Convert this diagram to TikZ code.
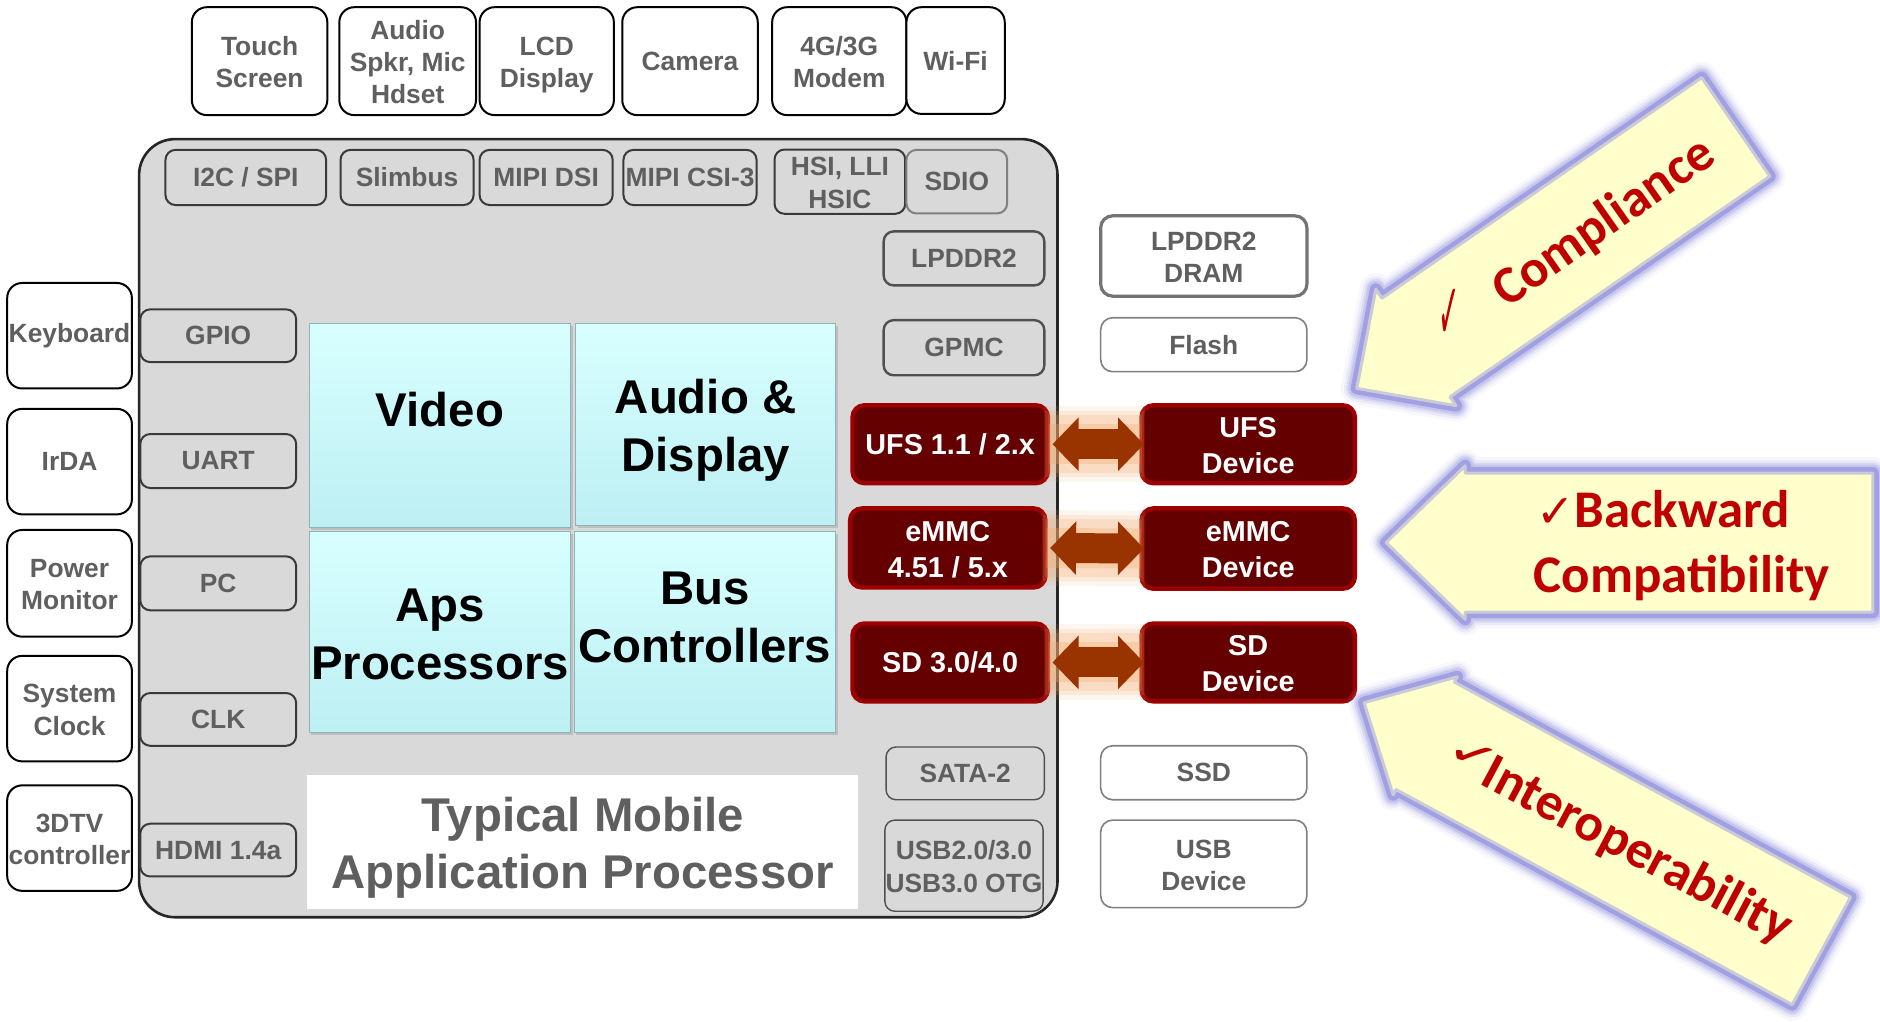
\documentclass[tikz,border=0pt]{standalone}
\usepackage{fontspec}
\usepackage{graphicx}
\setmainfont{Liberation Sans}
\newfontfamily\carl{Carlito}
\newfontfamily\dvs{DejaVu Sans}
\usetikzlibrary{arrows.meta,calc,shadows}
\definecolor{txtgray}{HTML}{5F5F5F}
\definecolor{panel}{HTML}{D9D9D9}
\definecolor{panelline}{HTML}{262626}
\definecolor{boxline}{HTML}{3A3A3A}
\definecolor{boxlinetwo}{HTML}{505050}
\definecolor{memline}{HTML}{808080}
\definecolor{redfill}{HTML}{650000}
\definecolor{redline}{HTML}{9C0000}
\definecolor{arrbrown}{HTML}{993300}
\definecolor{glowc}{HTML}{F4A868}
\definecolor{yel}{HTML}{FFFFCC}
\definecolor{lav}{HTML}{A0A0E2}
\definecolor{chk}{HTML}{C00000}
\definecolor{cyantop}{HTML}{D8FFFF}
\definecolor{cyanbot}{HTML}{BDEFF3}
\definecolor{cyanline}{HTML}{8FB2B5}
\newcommand\fntA{\fontsize{13.2}{16.2}\selectfont\bfseries}
\newcommand\fntB{\fontsize{14.4}{18}\selectfont\bfseries}
\newcommand\fntC{\fontsize{23.7}{28.8}\selectfont\bfseries}
\newcommand\fntD{\carl\fontsize{26.5}{32}\selectfont\bfseries}
\newcommand\sTop{\rule{0pt}{1em}}
\newcommand\sBot{\rule[-0.21em]{0pt}{0.21em}}
\newcommand\placebox[7]{\node[#6, minimum width={(#4-#2)*0.6pt}, minimum height={(#5-#3)*0.6pt}] (#1) at ({(#2+#4)/2},{(#3+#5)/2}) {#7};}
\newcommand\bigarrow[8]{%
\begin{scope}[shift={(#2,#3)}, rotate=#4]
\foreach \lw/\op in {16/.08, 13/.14, 10.5/.22, 8.5/.35}{
\draw[lav, line width=\lw pt, opacity=\op, line join=round] (0,0) -- (#8,-#7) -- (#8,-#6) -- (#5,-#6) -- (#5,#6) -- (#8,#6) -- (#8,#7) -- cycle;}
\draw[fill=yel, draw=lav, line width=6pt, line join=round] (0,0) -- (#8,-#7) -- (#8,-#6) -- (#5,-#6) -- (#5,#6) -- (#8,#6) -- (#8,#7) -- cycle;
\draw[fill=yel, draw=lav!55!yel, line width=1.5pt, line join=round] (0,0) -- (#8,-#7) -- (#8,-#6) -- (#5,-#6) -- (#5,#6) -- (#8,#6) -- (#8,#7) -- cycle;
\coordinate (#1) at (0,0);
\end{scope}}
\tikzset{
 extbox/.style={draw=black, line width=1pt, fill=white, rounded corners=7.5pt, inner sep=0pt, align=center, text=txtgray, font=\fntA},
 inbox/.style={draw=boxline, line width=1pt, fill=panel, rounded corners=5pt, inner sep=0pt, align=center, text=txtgray, font=\fntA},
 inboxthin/.style={inbox, draw=boxlinetwo, line width=0.7pt},
 membox/.style={draw=memline, line width=0.8pt, fill=white, rounded corners=6pt, inner sep=0pt, align=center, text=txtgray, font=\fntA},
 redbox/.style={draw=redline, line width=2.2pt, fill=redfill, rounded corners=6pt, inner sep=0pt, align=center, text=white, font=\fntB},
 cyanbox/.style={draw=cyanline, line width=0.6pt, top color=cyantop, bottom color=cyanbot, inner sep=0pt, drop shadow={opacity=.3, shadow xshift=1pt, shadow yshift=-1.2pt}},
 panelbox/.style={draw=panelline, line width=1.3pt, fill=panel, rounded corners=18pt, inner sep=0pt},
 bigtext/.style={font=\fntC, text=black, align=center, inner sep=0pt},
 glowline/.style={glowc, line cap=butt},
 dblarrow/.style={arrbrown, line width=15pt, {Triangle[width=26pt,length=13pt]}-{Triangle[width=26pt,length=13pt]}},
 chktext/.style={text=chk, font=\fntD, inner sep=0pt},
 chkmark/.style={text=chk, inner sep=0pt}
}
\begin{document}
\begin{tikzpicture}[x=0.6pt,y=-0.6pt]
\path[use as bounding box, fill=white] (0,0) rectangle (1568,852);
% main panel
\placebox{soc}{116}{116}{882}{765}{panelbox}{}
% top row
\placebox{touch}{160}{6}{273}{96}{extbox}{\sTop Touch\\Screen\sBot}
\placebox{audio}{283}{6}{397}{96}{extbox}{\sTop Audio\\Spkr, Mic\\Hdset\sBot}
\placebox{lcd}{400}{6}{512}{96}{extbox}{\sTop LCD\\Display\sBot}
\placebox{cam}{519}{6}{632}{96}{extbox}{Camera}
\placebox{modem}{644}{6}{756}{96}{extbox}{\sTop 4G/3G\\Modem\sBot}
\placebox{wifi}{756}{6}{838}{95}{extbox}{Wi-Fi}
% second row
\placebox{i2c}{138}{125}{272}{171}{inbox}{I2C / SPI}
\placebox{slim}{284}{125}{395}{171}{inbox}{Slimbus}
\placebox{dsi}{400}{125}{511}{171}{inbox}{MIPI DSI}
\placebox{csi}{520}{125}{631}{171}{inbox}{MIPI CSI-3}
\placebox{hsi}{646}{125}{755}{178}{inbox}{\sTop HSI, LLI\\HSIC\sBot}
\placebox{sdio}{756}{125}{840}{178}{inbox, draw=memline}{SDIO}
% right inner column
\placebox{lpddr}{737}{193}{871}{238}{inbox, draw=boxlinetwo, line width=1.2pt}{LPDDR2}
\placebox{gpmc}{737}{267}{871}{313}{inbox, draw=boxlinetwo, line width=1.2pt}{GPMC}
\placebox{sata}{739}{623}{871}{667}{inboxthin}{SATA-2}
\placebox{usb}{738}{684}{870}{760}{inboxthin}{\sTop USB2.0/3.0\\USB3.0 OTG\sBot}
% left outside
\placebox{kbd}{6}{236}{110}{324}{extbox}{Keyboard}
\placebox{irda}{6}{341}{110}{429}{extbox}{IrDA}
\placebox{pwr}{6}{442}{110}{531}{extbox}{\sTop Power\\Monitor\sBot}
\placebox{sysclk}{6}{547}{110}{635}{extbox}{\sTop System\\Clock\sBot}
\placebox{tv}{6}{655}{110}{743}{extbox}{\sTop 3DTV\\controller\sBot}
% left inner
\placebox{gpio}{117}{258}{247}{302}{inbox}{GPIO}
\placebox{uart}{117}{362}{247}{407}{inbox}{UART}
\placebox{pc}{117}{464}{247}{509}{inbox}{PC}
\placebox{clkb}{117}{578}{247}{622}{inbox}{CLK}
\placebox{hdmi}{117}{687}{247}{731}{inbox}{HDMI 1.4a}
% cyan blocks
\placebox{video}{258}{270}{476}{440}{cyanbox}{}
\placebox{avd}{480}{270}{697}{438}{cyanbox}{}
\placebox{aps}{258}{443}{476}{611}{cyanbox}{}
\placebox{bus}{479}{443}{697}{611}{cyanbox}{}
\node[bigtext] (videot) at (367,342) {Video};
\node[bigtext] (avdt) at (588.5,359) {Audio \&\\Display};
\node[bigtext] (apst) at (367,529) {Aps\\Processors};
\node[bigtext] (bust) at (588,515) {Bus\\Controllers};
% title
\placebox{title}{256}{646}{716}{758}{fill=white, inner sep=0pt}{}
\node[bigtext, text=txtgray] (titlet) at (486,707) {Typical Mobile\\Application Processor};
% right outside
\placebox{dram}{918}{180}{1090}{247}{membox, line width=1.6pt, draw=memline!90!black}{\sTop LPDDR2\\DRAM\sBot}
\placebox{flash}{918}{265}{1090}{310}{membox}{Flash}
\placebox{ssd}{918}{622}{1090}{667}{membox}{SSD}
\placebox{usbd}{918}{684}{1090}{757}{membox}{\sTop USB\\Device\sBot}
% red boxes
\placebox{ufs}{711}{338}{874}{403}{redbox}{UFS 1.1 / 2.x}
\placebox{emmc}{709}{424}{872}{490}{redbox}{\sTop eMMC\\4.51 / 5.x\sBot}
\placebox{sd}{711}{520}{874}{585}{redbox}{SD 3.0/4.0}
\placebox{ufsd}{952}{338}{1130}{403}{redbox}{\sTop UFS\\Device\sBot}
\placebox{emmcd}{952}{424}{1130}{491}{redbox}{\sTop eMMC\\Device\sBot}
\placebox{sdd}{952}{520}{1130}{585}{redbox}{\sTop SD\\Device\sBot}
% glowing double arrows
\foreach \a/\b in {ufs/ufsd, emmc/emmcd, sd/sdd}{
  \draw[glowline, line width=38pt, opacity=.1] ($(\a.east)+(-5,0)$) -- ($(\b.west)+(5,0)$);
  \draw[glowline, line width=33pt, opacity=.15] ($(\a.east)+(-4,0)$) -- ($(\b.west)+(4,0)$);
  \draw[glowline, line width=29pt, opacity=.2] ($(\a.east)+(-2,0)$) -- ($(\b.west)+(2,0)$);
  \draw[glowline, line width=20pt, opacity=.3] ($(\a.east)+(-1,0)$) -- ($(\b.west)+(1,0)$);
  \draw[dblarrow] ($(\a.east)+(2,0)$) -- ($(\b.west)+(4,0)$);
}
% big arrows
\bigarrow{comptip}{1131.6}{323.9}{34.6}{384}{50}{59}{60}
\bigarrow{backtip}{1156}{452.5}{0}{406}{58}{64}{66}
\bigarrow{intertip}{1137.7}{586}{-28.5}{434}{51}{56}{58}
% arrow texts
\node[chkmark] (c1) at (1209,262) {\dvs\fontsize{40}{42}\selectfont\scalebox{0.32}[1]{✓}};
\node[chktext, rotate=35] (t1) at (1338,186) {Compliance};
\node[chktext, anchor=base west] (t2) at (1281,440) {{\dvs\fontsize{23}{26}\selectfont ✓}Backward};
\node[chktext, anchor=base west] (t3) at (1279,494) {Compatibility};
\node[chkmark, rotate=-22] (c3) at (1229,630) {\dvs\fontsize{27}{30}\selectfont\scalebox{1.2}[0.75]{✓}};
\node[chktext, rotate=-28] (t4) at (1365,710) {Interoperability};
\end{tikzpicture}
\end{document}
